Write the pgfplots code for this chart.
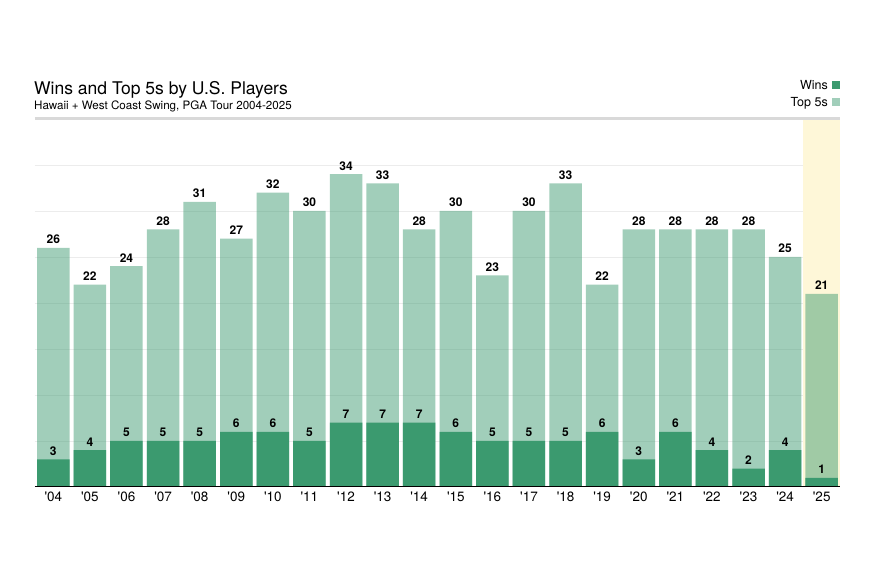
\documentclass[border=0pt]{standalone}
\usepackage{pgfplots}
\pgfplotsset{compat=1.18}
\usepackage{fontspec}
\setmainfont{TeX Gyre Heros}
\definecolor{wins}{HTML}{3B9A6F}
\definecolor{band}{HTML}{FEF7D8}
\pgfplotstableread{
x top wins
0 26 3
1 22 4
2 24 5
3 28 5
4 31 5
5 27 6
6 32 6
7 30 5
8 34 7
9 33 7
10 28 7
11 30 6
12 23 5
13 30 5
14 33 5
15 22 6
16 28 3
17 28 6
18 28 4
19 28 2
20 25 4
21 21 1
}\datatable
\begin{document}
\begin{tikzpicture}
\path[use as bounding box, fill=white] (0pt,0pt) rectangle (876pt,584pt);
\node[anchor=base west, font=\fontsize{17.5}{20}\selectfont, inner sep=0] at (34pt,489.5pt) {Wins and Top 5s by U.S. Players};
\node[anchor=base west, font=\fontsize{11.6}{14}\selectfont, inner sep=0] at (34pt,474pt) {Hawaii + West Coast Swing, PGA Tour 2004-2025};
\node[anchor=base east, font=\fontsize{12.5}{14}\selectfont, inner sep=0] at (828pt,494.5pt) {Wins};
\node[anchor=base east, font=\fontsize{12.5}{14}\selectfont, inner sep=0] at (828pt,477.5pt) {Top 5s};
\fill[wins] (832pt,495pt) rectangle (840pt,503pt);
\fill[wins, opacity=0.48] (832pt,478pt) rectangle (840pt,486pt);
\begin{axis}[at={(35pt,97pt)}, anchor=south west, scale only axis,
  width=805pt, height=368pt,
  xmin=-0.5, xmax=21.5, ymin=0, ymax=40,
  axis line style={draw=none},
  ytick={5,10,...,35}, yticklabels={},
  ymajorgrids, grid style={gray!15, line width=0.8pt},
  major tick length=0,
  xtick={0,...,21},
  xticklabels={\textquotesingle04,\textquotesingle05,\textquotesingle06,\textquotesingle07,\textquotesingle08,\textquotesingle09,\textquotesingle10,\textquotesingle11,\textquotesingle12,\textquotesingle13,\textquotesingle14,\textquotesingle15,\textquotesingle16,\textquotesingle17,\textquotesingle18,\textquotesingle19,\textquotesingle20,\textquotesingle21,\textquotesingle22,\textquotesingle23,\textquotesingle24,\textquotesingle25},
  xticklabel style={font=\fontsize{13.5}{15}\selectfont, yshift=-1pt},
  ybar, bar width=32.5pt, bar shift=0pt,
  nodes near coords,
  every node near coord/.append style={font=\bfseries\fontsize{12}{13}\selectfont, yshift=0.5pt, text=black, text opacity=1, fill opacity=1, opacity=1},
  /pgf/number format/assume math mode=true,
  clip=false]
\fill[band] (axis cs:20.5,0) rectangle (axis cs:21.5,40);
\addplot[fill=wins, fill opacity=0.48, draw=none] table[x=x,y=top] {\datatable};
\addplot[fill=wins, draw=none] table[x=x,y=wins] {\datatable};
\draw[black, line width=1pt] (axis cs:-0.5,0) -- (axis cs:21.5,0);
\draw[gray!30, line width=3pt] (axis cs:-0.5,40) -- (axis cs:21.5,40);
\end{axis}
\end{tikzpicture}
\end{document}
